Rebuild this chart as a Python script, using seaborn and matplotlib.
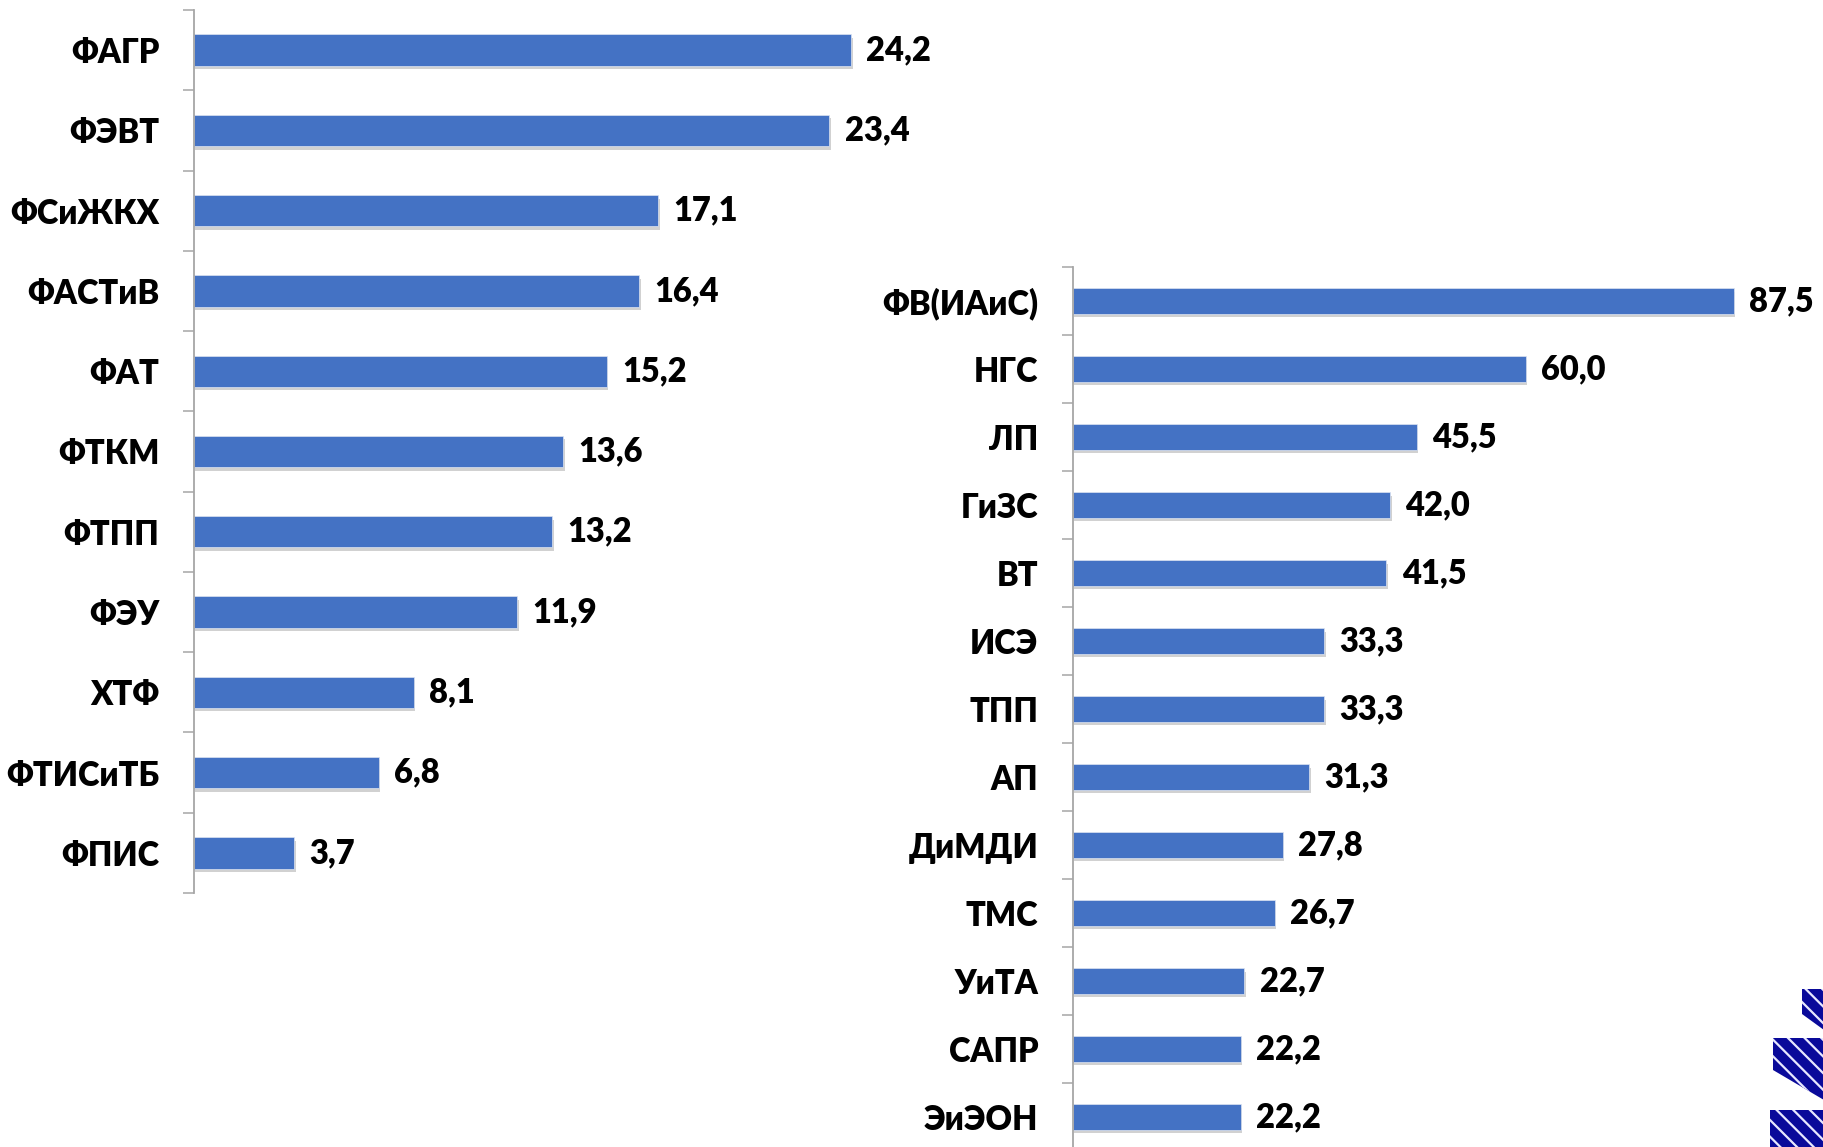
import matplotlib.pyplot as plt
import matplotlib.patheffects as pe
from matplotlib.patches import Polygon
import seaborn as sns
import numpy as np
import pandas as pd

# left group
left_names = ["ФАГР", "ФЭВТ", "ФСиЖКХ", "ФАСТиВ", "ФАТ", "ФТКМ", "ФТПП", "ФЭУ", "ХТФ", "ФТИСиТБ", "ФПИС"]
left_values = [24.2, 23.4, 17.1, 16.4, 15.2, 13.6, 13.2, 11.9, 8.1, 6.8, 3.7]

# right group
right_names = ["ФВ(ИАиС)", "НГС", "ЛП", "ГиЗС", "ВТ", "ИСЭ", "ТПП", "АП", "ДиМДИ", "ТМС", "УиТА", "САПР", "ЭиЭОН"]
right_values = [87.5, 60.0, 45.5, 42.0, 41.5, 33.3, 33.3, 31.3, 27.8, 26.7, 22.7, 22.2, 22.2]

sns.set_style("white")
plt.rcParams['font.family'] = ['Lato', 'DejaVu Sans']
plt.rcParams['hatch.linewidth'] = 1.6

BAR = "#4472C4"
AXC = "#A6A6A6"

fig = plt.figure(figsize=(18.24, 11.47), dpi=100)
W, H = 1824, 1147

def make_panel(names, values, box, xmax, bar_h):
    x0, y_top, x1, y_bot = box
    ax = fig.add_axes([x0 / W, 1 - y_bot / H, (x1 - x0) / W, (y_bot - y_top) / H])
    df = pd.DataFrame({"name": names, "value": values})
    sns.barplot(data=df, x="value", y="name", orient="h", color=BAR,
                width=bar_h, saturation=1, ax=ax, edgecolor="#DCE4F2", linewidth=0.5)
    n = len(names)
    ax.set_xlim(0, xmax)
    ax.set_ylim(n - 0.5, -0.5)
    for p in ax.patches:
        p.set_path_effects([pe.SimplePatchShadow(offset=(1, -2.5), shadow_rgbFace="black", alpha=0.18),
                            pe.Normal()])
    labels = [f"{v:.1f}".replace(".", ",") for v in values]
    texts = ax.bar_label(ax.containers[0], labels=labels, padding=11)
    for t in texts:
        t.set_fontsize(23.5)
        t.set_fontweight("heavy")
        t.set_color("black")
    ax.set_xlabel("")
    ax.set_ylabel("")
    ax.set_xticks([])
    for s in ["top", "right", "bottom"]:
        ax.spines[s].set_visible(False)
    ax.spines["left"].set_color(AXC)
    ax.spines["left"].set_linewidth(1.3)
    ax.set_yticks(np.arange(-0.5, n, 1), minor=True)
    ax.tick_params(axis="y", which="minor", length=8, width=1.1, color=AXC, left=True)
    ax.tick_params(axis="y", which="major", length=0, pad=25)
    for t in ax.get_yticklabels():
        t.set_fontsize(23.5)
        t.set_fontweight("heavy")
        t.set_color("black")
    return ax

make_panel(left_names, left_values, (194, 10, 900, 893), 26, 0.39)
make_panel(right_names, right_values, (1073, 267, 1770, 1151), 92.3, 0.37)

# logo fragment in the corner
logo = fig.add_axes([0, 0, 1, 1], zorder=-1)
logo.set_xlim(0, W)
logo.set_ylim(H, 0)
logo.axis("off")
pieces = [
    [(1802, 989), (1824, 989), (1824, 1030), (1802, 1014)],
    [(1773, 1038), (1824, 1038), (1824, 1100), (1773, 1070)],
    [(1743, 1110), (1824, 1110), (1824, 1147), (1743, 1147)],
]
for pts in pieces:
    logo.add_patch(Polygon(pts, closed=True, facecolor="#0A0A9A", edgecolor="#E8E8FF",
                           hatch="\\\\", linewidth=0))

fig.savefig("out.png", dpi=100)
